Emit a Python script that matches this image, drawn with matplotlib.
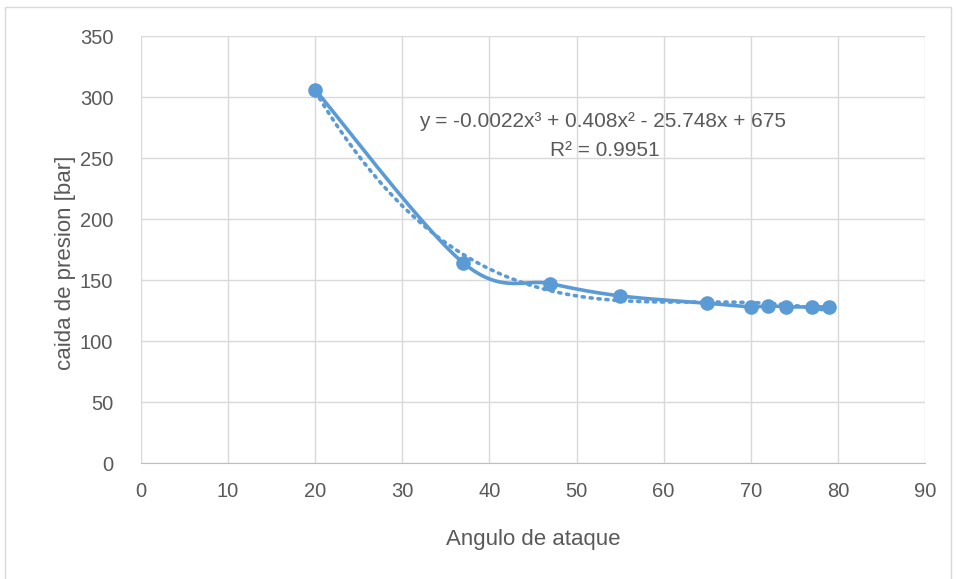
import numpy as np
import matplotlib.pyplot as plt
from matplotlib.patches import Rectangle

plt.rcParams['font.family'] = ['Liberation Sans Narrow', 'Liberation Sans', 'DejaVu Sans']

# datos
angulo = [20, 37, 47, 55, 65, 70, 72, 74, 77, 79]
caida = [306, 164, 147, 137, 131, 128, 129, 128, 128, 128]

x_ticks = list(range(0, 91, 10))
y_ticks = list(range(0, 351, 50))

blue = '#5B9BD5'
gray_text = '#595959'
grid_color = '#D9D9D9'


def catmull_rom(xs, ys, n=40):
    # suavizado tipo Excel (bezier con tangentes de Catmull-Rom)
    px = [xs[0]] + list(xs) + [xs[-1]]
    py = [ys[0]] + list(ys) + [ys[-1]]
    out_x, out_y = [], []
    t = np.linspace(0, 1, n)
    for i in range(1, len(px) - 2):
        p0 = np.array([px[i], py[i]], float)
        p3 = np.array([px[i + 1], py[i + 1]], float)
        c1 = p0 + (np.array([px[i + 1], py[i + 1]]) - np.array([px[i - 1], py[i - 1]])) / 6
        c2 = p3 - (np.array([px[i + 2], py[i + 2]]) - np.array([px[i], py[i]])) / 6
        b = ((1 - t) ** 3)[:, None] * p0 + (3 * (1 - t) ** 2 * t)[:, None] * c1 \
            + (3 * (1 - t) * t ** 2)[:, None] * c2 + (t ** 3)[:, None] * p3
        out_x.extend(b[:, 0])
        out_y.extend(b[:, 1])
    return out_x, out_y


fig = plt.figure(figsize=(9.56, 5.79), dpi=100)
ax = fig.add_axes([0.1475, 0.2003, 0.82, 0.7375])

fig.patches.append(Rectangle((0.005, -0.01), 0.99, 0.998, transform=fig.transFigure,
                             fill=False, edgecolor='#D9D9D9', linewidth=1))

# linea de tendencia polinomica (grado 3)
coef = np.polyfit(angulo, caida, 3)
xt = np.linspace(min(angulo), max(angulo), 200)
ax.plot(xt, np.polyval(coef, xt), color=blue, linestyle=(0, (0.6, 1.6)),
        linewidth=2.6, dash_capstyle='round', zorder=3)

sx, sy = catmull_rom(angulo, caida)
ax.plot(sx, sy, color=blue, linewidth=2.6, zorder=4)
ax.plot(angulo, caida, 'o', color=blue, markersize=9.5, zorder=5)

ax.set_xlim(0, 90)
ax.set_ylim(0, 350)
ax.set_xticks(x_ticks)
ax.set_yticks(y_ticks)
ax.grid(True, color=grid_color, linewidth=1)
ax.set_axisbelow(True)
for s in ['top', 'right', 'left']:
    ax.spines[s].set_visible(False)
ax.spines['bottom'].set_color('#BFBFBF')
ax.tick_params(axis='x', length=0, labelsize=14.5, colors=gray_text, pad=14)
ax.tick_params(axis='y', length=0, labelsize=14.5, colors=gray_text, pad=20)

ax.set_xlabel('Angulo de ataque', fontsize=16, color=gray_text, labelpad=20)
ax.set_ylabel('caida de presion [bar]', fontsize=16, color=gray_text)
ax.yaxis.set_label_coords(-0.083, 0.47)

ax.text(53.0, 280, 'y = -0.0022x³ + 0.408x² - 25.748x + 675', fontsize=15,
        color=gray_text, ha='center', va='center')
ax.text(53.2, 256, 'R² = 0.9951', fontsize=15, color=gray_text, ha='center', va='center')

fig.savefig('out.png', dpi=100)
